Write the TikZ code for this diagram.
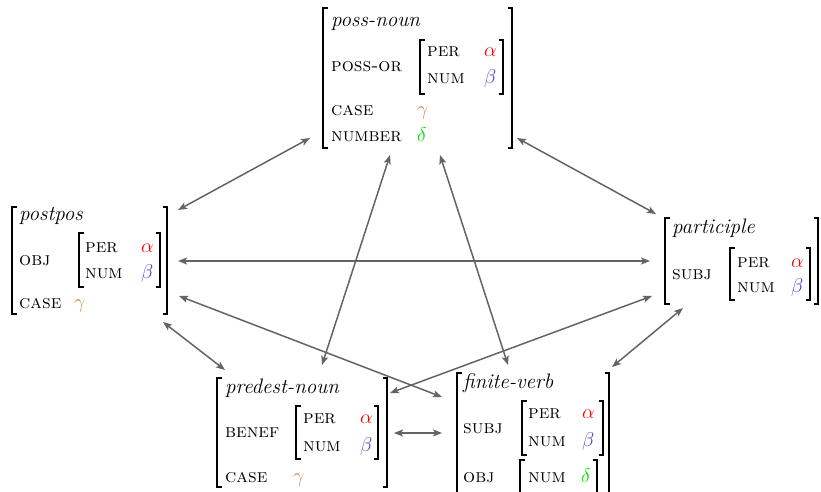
\documentclass[tikz,border=0pt]{standalone}
\usepackage{fix-cm}
\usepackage{fontspec}
\usetikzlibrary{arrows.meta}
\definecolor{avred}{RGB}{255,0,0}
\definecolor{avblue}{RGB}{64,64,200}
\definecolor{avorange}{RGB}{200,134,70}
\definecolor{avgreen}{RGB}{0,220,0}
\definecolor{linkgray}{RGB}{100,100,100}
\newcommand\avmL[3]{\draw[brk] (#1+4.5,#2) -- (#1,#2) -- (#1,#3) -- (#1+4.5,#3);}
\newcommand\avmR[3]{\draw[brk] (#1-4.5,#2) -- (#1,#2) -- (#1,#3) -- (#1-4.5,#3);}
\tikzset{
  hd/.style={anchor=base west, inner sep=0pt, font=\fontsize{21}{24}\selectfont\itshape},
  ft/.style={anchor=base west, inner sep=0pt, font=\fontsize{19}{22}\selectfont\scshape},
  vl/.style={anchor=base west, inner sep=0pt, font=\fontsize{20}{22}\selectfont},
  brk/.style={line width=1.5pt, black},
  lnk/.style={draw=linkgray, line width=1.5pt, {Stealth[length=9pt,width=7pt,inset=2pt]}-{Stealth[length=9pt,width=7pt,inset=2pt]}},
}
\begin{document}
\begin{tikzpicture}[x=1pt,y=-1pt]
\useasboundingbox (0,0) rectangle (821,492);
% poss-noun
\avmL{323}{8}{148} \avmR{512}{8}{148}
\node[hd] (pn-h) at (331,27) {poss-noun};
\node[ft] (pn-po) at (331,72) {poss-or};
\avmL{420}{40}{94} \avmR{503}{40}{94}
\node[ft] (pn-per) at (427,57) {per};
\node[vl,text=avred] (pn-a) at (484,57) {$\alpha$};
\node[ft] (pn-num) at (427,84) {num};
\node[vl,text=avblue] (pn-b) at (484,84) {$\beta$};
\node[ft] (pn-case) at (331,115) {case};
\node[vl,text=avorange] (pn-g) at (417,115) {$\gamma$};
\node[ft] (pn-number) at (331,142) {number};
\node[vl,text=avgreen] (pn-d) at (417,142) {$\delta$};
% postpos
\avmL{12}{207}{314} \avmR{167}{207}{314}
\node[hd] (pp-h) at (19,220) {postpos};
\node[ft] (pp-obj) at (19,265) {obj};
\avmL{79}{233}{287} \avmR{160}{233}{287}
\node[ft] (pp-per) at (85,252) {per};
\node[vl,text=avred] (pp-a) at (141,252) {$\alpha$};
\node[ft] (pp-num) at (85,278) {num};
\node[vl,text=avblue] (pp-b) at (141,278) {$\beta$};
\node[ft] (pp-case) at (19,308) {case};
\node[vl,text=avorange] (pp-g) at (74,308) {$\gamma$};
% participle
\avmL{665}{218}{304} \avmR{818}{218}{304}
\node[hd] (pa-h) at (672,233) {participle};
\node[ft] (pa-subj) at (672,279) {subj};
\avmL{730}{248}{300} \avmR{810}{248}{300}
\node[ft] (pa-per) at (737,267) {per};
\node[vl,text=avred] (pa-a) at (791,267) {$\alpha$};
\node[ft] (pa-num) at (737,292) {num};
\node[vl,text=avblue] (pa-b) at (791,292) {$\beta$};
% predest-noun
\avmL{217}{378}{487} \avmR{387}{378}{487}
\node[hd] (pd-h) at (225,393) {predest-noun};
\node[ft] (pd-benef) at (225,437) {benef};
\avmL{296}{406}{459} \avmR{378}{406}{459}
\node[ft] (pd-per) at (303,423) {per};
\node[vl,text=avred] (pd-a) at (360,423) {$\alpha$};
\node[ft] (pd-num) at (303,451) {num};
\node[vl,text=avblue] (pd-b) at (360,451) {$\beta$};
\node[ft] (pd-case) at (225,482) {case};
\node[vl,text=avorange] (pd-g) at (293,482) {$\gamma$};
% finite-verb
\avmL{457}{373}{505} \avmR{609}{373}{505}
\node[hd] (fv-h) at (463,388) {finite-verb};
\node[ft] (fv-subj) at (463,433) {subj};
\avmL{522}{401}{455} \avmR{603}{401}{455}
\node[ft] (fv-per) at (528,418) {per};
\node[vl,text=avred] (fv-a) at (582,418) {$\alpha$};
\node[ft] (fv-num) at (528,446) {num};
\node[vl,text=avblue] (fv-b) at (582,446) {$\beta$};
\node[ft] (fv-obj) at (463,482) {obj};
\avmL{520}{460}{505} \avmR{597}{460}{505}
\node[ft] (fv-num2) at (528,482) {num};
\node[vl,text=avgreen] (fv-d) at (581,482) {$\delta$};
% connector ends
\coordinate (c1a) at (178,210); \coordinate (c1b) at (310,138);
\coordinate (c2a) at (517,138); \coordinate (c2b) at (656,214);
\coordinate (c3a) at (178,261); \coordinate (c3b) at (650,261);
\coordinate (c4a) at (179,296); \coordinate (c4b) at (442,397);
\coordinate (c5a) at (652,296); \coordinate (c5b) at (390,393);
\coordinate (c6a) at (163,322); \coordinate (c6b) at (225,370);
\coordinate (c7a) at (390,155); \coordinate (c7b) at (322,365);
\coordinate (c8a) at (440,155); \coordinate (c8b) at (508,365);
\coordinate (c9a) at (683,308); \coordinate (c9b) at (612,367);
\coordinate (c10a) at (394,433); \coordinate (c10b) at (442,433);
\draw[lnk] (c1a) -- (c1b);
\draw[lnk] (c2a) -- (c2b);
\draw[lnk] (c3a) -- (c3b);
\draw[lnk] (c4a) -- (c4b);
\draw[lnk] (c5a) -- (c5b);
\draw[lnk] (c6a) -- (c6b);
\draw[lnk] (c7a) -- (c7b);
\draw[lnk] (c8a) -- (c8b);
\draw[lnk] (c9a) -- (c9b);
\draw[lnk] (c10a) -- (c10b);
\end{tikzpicture}
\end{document}
